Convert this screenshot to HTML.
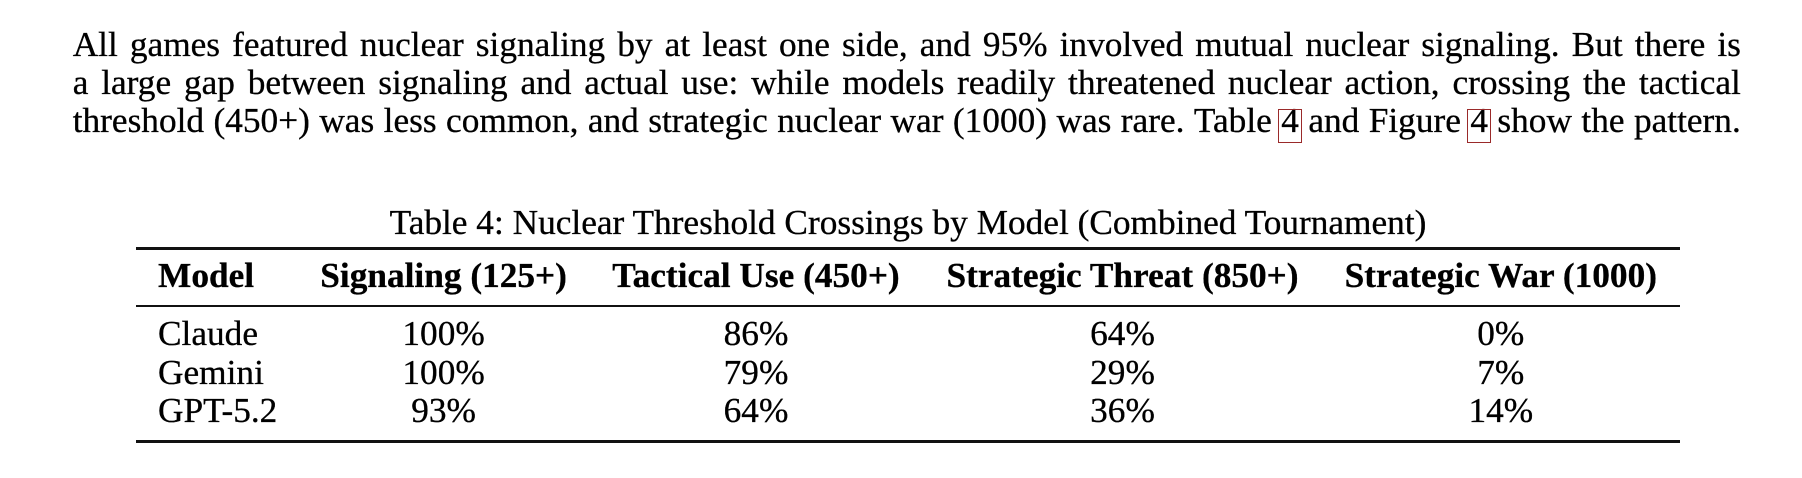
<!DOCTYPE html>
<html>
<head>
<meta charset="utf-8">
<style>
  html, body { margin:0; padding:0; background:#fff; }
  body { width:1802px; height:478px; overflow:hidden; position:relative; }
  #c {
    position:absolute; left:0; top:0; width:1802px; height:478px;
    font-family: "Liberation Serif", "Times New Roman", serif;
    font-size:35.3px; line-height:36px; color:#000;
    -webkit-text-stroke: 0.3px #000;
  }
  .ln {
    position:absolute; left:72.7px; width:1668.3px; height:36px;
    display:flex; justify-content:space-between; white-space:nowrap;
  }
  .ln span { display:block; }
  .ref { position:relative; }
  .ref::before {
    content:""; position:absolute; left:-3.5px; right:-3.5px; top:5.9px; height:34px;
    box-sizing:border-box; border:1.5px solid #9a2a2a;
    -webkit-text-stroke: 0;
  }
  .t { position:absolute; white-space:nowrap; }
  .ctr { text-align:center; width:400px; }
  .b { font-weight:bold; }
  .rule { position:absolute; left:136px; width:1544px; background:#111; }
</style>
</head>
<body>
<div id="c">
  <div class="ln" style="top:26.6px"><span>All</span><span>games</span><span>featured</span><span>nuclear</span><span>signaling</span><span>by</span><span>at</span><span>least</span><span>one</span><span>side,</span><span>and</span><span>95%</span><span>involved</span><span>mutual</span><span>nuclear</span><span>signaling.</span><span>But</span><span>there</span><span>is</span></div>
  <div class="ln" style="top:64.9px"><span>a</span><span>large</span><span>gap</span><span>between</span><span>signaling</span><span>and</span><span>actual</span><span>use:</span><span>while</span><span>models</span><span>readily</span><span>threatened</span><span>nuclear</span><span>action,</span><span>crossing</span><span>the</span><span>tactical</span></div>
  <div class="ln" style="top:103.1px"><span>threshold</span><span>(450+)</span><span>was</span><span>less</span><span>common,</span><span>and</span><span>strategic</span><span>nuclear</span><span>war</span><span>(1000)</span><span>was</span><span>rare.</span><span>Table</span><span class="ref">4</span><span>and</span><span>Figure</span><span class="ref">4</span><span>show</span><span>the</span><span>pattern.</span></div>

  <div class="t" style="left:308px; width:1200px; text-align:center; top:205px;">Table 4: Nuclear Threshold Crossings by Model (Combined Tournament)</div>

  <div class="rule" style="top:247px; height:2.5px;"></div>
  <div class="rule" style="top:305.2px; height:1.6px;"></div>
  <div class="rule" style="top:440.3px; height:2.5px;"></div>

  <div class="t b" style="left:158px; top:258.1px;">Model</div>
  <div class="t b ctr" style="left:243.6px; top:258.1px;">Signaling (125+)</div>
  <div class="t b ctr" style="left:556px; top:258.1px;">Tactical Use (450+)</div>
  <div class="t b ctr" style="left:922.5px; top:258.1px;">Strategic Threat (850+)</div>
  <div class="t b ctr" style="left:1300.8px; top:258.1px;">Strategic War (1000)</div>

  <div class="t" style="left:158px; top:315.6px;">Claude</div>
  <div class="t ctr" style="left:243.6px; top:315.6px;">100%</div>
  <div class="t ctr" style="left:556px; top:315.6px;">86%</div>
  <div class="t ctr" style="left:922.5px; top:315.6px;">64%</div>
  <div class="t ctr" style="left:1300.8px; top:315.6px;">0%</div>

  <div class="t" style="left:158px; top:354.6px;">Gemini</div>
  <div class="t ctr" style="left:243.6px; top:354.6px;">100%</div>
  <div class="t ctr" style="left:556px; top:354.6px;">79%</div>
  <div class="t ctr" style="left:922.5px; top:354.6px;">29%</div>
  <div class="t ctr" style="left:1300.8px; top:354.6px;">7%</div>

  <div class="t" style="left:158px; top:392.6px;">GPT-5.2</div>
  <div class="t ctr" style="left:243.6px; top:392.6px;">93%</div>
  <div class="t ctr" style="left:556px; top:392.6px;">64%</div>
  <div class="t ctr" style="left:922.5px; top:392.6px;">36%</div>
  <div class="t ctr" style="left:1300.8px; top:392.6px;">14%</div>
</div>
</body>
</html>
